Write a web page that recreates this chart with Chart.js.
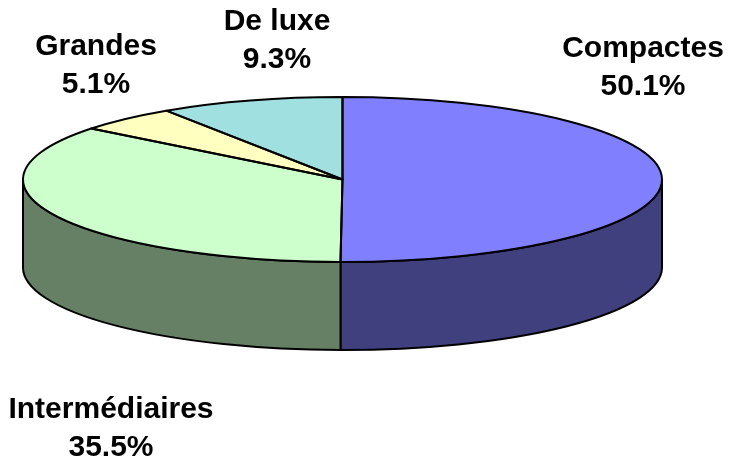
<!DOCTYPE html>
<html>
<head>
<meta charset="utf-8">
<script src="https://cdn.jsdelivr.net/npm/chart.js@4.4.0/dist/chart.umd.min.js"></script>
<style>
	html, body { margin: 0; padding: 0; background: #fff; }
	#wrap { width: 734px; height: 465px; }
</style>
</head>
<body>
<div id="wrap"><canvas id="cntx_pie"></canvas></div>
<script>
// data
const categories = ["Compactes", "Intermédiaires", "Grandes", "De luxe"];
const shares = [50.1, 35.5, 5.1, 9.3];

// styles
const topColors = ["#8080ff", "#ccffcc", "#ffffc0", "#a0e0e0"];
const sideColors = ["#40407f", "#668066", "#80805f", "#507070"];
const depth = 88;
// label centres (first line), second line drawn below
const labelAnchors = [[643, 49], [111, 410], [96, 47], [277, 22]];
const lineGap = 38;

const pie3d = {
	id: "pie3d",
	beforeDatasetsDraw: (chart) => {
		const ctx = chart.ctx;
		const arcs = chart.getDatasetMeta(0).data;
		const area = chart.chartArea;
		const cx = arcs[0].x, cy = arcs[0].y;
		const ry = arcs[0].outerRadius;
		const rx = area.width / 2;
		chart.$ell = { cx, cy, rx, ry };

		// front walls
		ctx.save();
		ctx.lineWidth = 2;
		ctx.strokeStyle = "#000";
		ctx.lineJoin = "round";
		arcs.forEach((arc, i) => {
			const s = Math.max(arc.startAngle, 0);
			const e = Math.min(arc.endAngle, Math.PI);
			if (s >= e) return;
			ctx.beginPath();
			ctx.ellipse(cx, cy, rx, ry, 0, s, e);
			ctx.ellipse(cx, cy + depth, rx, ry, 0, e, s, true);
			ctx.closePath();
			ctx.fillStyle = sideColors[i];
			ctx.fill();
			ctx.stroke();
		});
		ctx.restore();

		// squash the pie into the ellipse
		ctx.save();
		ctx.translate(cx, cy);
		ctx.scale(rx / ry, 1);
		ctx.translate(-cx, -cy);
	},
	afterDatasetsDraw: (chart) => {
		const ctx = chart.ctx;
		ctx.restore();
		const arcs = chart.getDatasetMeta(0).data;
		const { cx, cy, rx, ry } = chart.$ell;

		ctx.save();
		ctx.lineWidth = 2;
		ctx.strokeStyle = "#000";
		ctx.lineJoin = "round";
		arcs.forEach((arc) => {
			ctx.beginPath();
			ctx.moveTo(cx, cy);
			ctx.ellipse(cx, cy, rx, ry, 0, arc.startAngle, arc.endAngle);
			ctx.closePath();
			ctx.stroke();
		});

		ctx.fillStyle = "#000";
		ctx.font = "bold 30px 'Liberation Sans', Arial, sans-serif";
		ctx.textAlign = "center";
		ctx.textBaseline = "middle";
		categories.forEach((name, i) => {
			const [x, y] = labelAnchors[i];
			ctx.fillText(name, x, y);
			ctx.fillText(shares[i].toFixed(1) + "%", x, y + lineGap);
		});
		ctx.restore();
	},
};

const canvas = document.querySelector("#cntx_pie");
const myChart = new Chart(canvas, {
	type: "pie",
	data: {
		labels: categories,
		datasets: [
			{
				data: shares,
				backgroundColor: topColors,
				borderWidth: 0,
			},
		],
	},
	options: {
		responsive: true,
		maintainAspectRatio: false,
		animation: false,
		events: [],
		layout: {
			padding: { left: 23, right: 72, top: 97, bottom: 203 },
		},
		plugins: {
			legend: { display: false },
			tooltip: { enabled: false },
		},
	},
	plugins: [pie3d],
});
</script>
</body>
</html>
